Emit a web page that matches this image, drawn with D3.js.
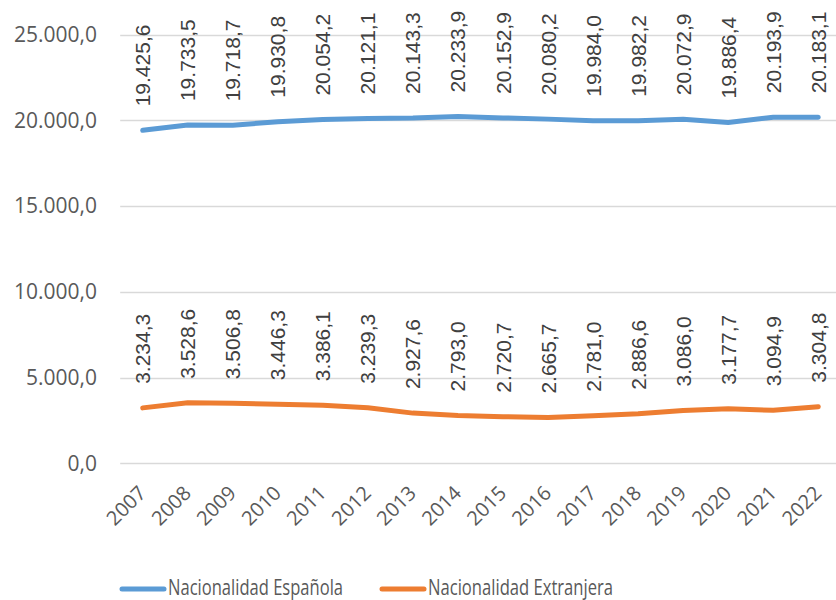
<!DOCTYPE html>
<html>
<head>
<meta charset="utf-8">
<script src="https://cdn.jsdelivr.net/npm/d3@7"></script>
<style>
  html, body { margin: 0; padding: 0; background: #ffffff; }
  svg { display: block; }
</style>
</head>
<body>
<svg id="chart" width="836" height="600"></svg>
<script>
const years = ["2007","2008","2009","2010","2011","2012","2013","2014","2015","2016","2017","2018","2019","2020","2021","2022"];
const espanola = [19425.6,19733.5,19718.7,19930.8,20054.2,20121.1,20143.3,20233.9,20152.9,20080.2,19984.0,19982.2,20072.9,19886.4,20193.9,20183.1];
const extranjera = [3234.3,3528.6,3506.8,3446.3,3386.1,3239.3,2927.6,2793.0,2720.7,2665.7,2781.0,2886.6,3086.0,3177.7,3094.9,3304.8];
const yTicks = [0,5000,10000,15000,20000,25000];
const seriesNames = ["Nacionalidad Española","Nacionalidad Extranjera"];
const colors = ["#5B9BD5","#ED7D31"];

const locale = d3.formatLocale({decimal: ",", thousands: ".", grouping: [3], currency: ["", "€"]});
const fmt = locale.format(",.1f");

const svg = d3.select("#chart");
const plotLeft = 120.2, plotRight = 840.8, plotTop = 34.8, plotBottom = 463.3;

const x = d3.scalePoint().domain(years).range([plotLeft, plotRight]).padding(0.5);
const y = d3.scaleLinear().domain([0, 25000]).range([plotBottom, plotTop]);

const axisFont = "'Open Sans', 'Noto Sans', sans-serif";
const labelFont = "'Liberation Sans', Arial, sans-serif";

// gridlines
svg.append("g").selectAll("line").data(yTicks).join("line")
  .attr("x1", plotLeft).attr("x2", plotRight)
  .attr("y1", d => Math.round(y(d)) + 0.5).attr("y2", d => Math.round(y(d)) + 0.5)
  .attr("stroke", "#d9d9d9").attr("stroke-width", 1.3);

// y axis labels
const yAxis = d3.axisLeft(y).tickValues(yTicks).tickFormat(fmt).tickSize(0).tickPadding(0);
const yg = svg.append("g").attr("transform", "translate(97,0)").call(yAxis);
yg.select(".domain").remove();
yg.selectAll("text").attr("font-family", axisFont).attr("font-size", 21).attr("fill", "#595959");

// x axis labels
const xAxis = d3.axisBottom(x).tickSize(0).tickPadding(0);
const xg = svg.append("g").attr("transform", `translate(0,${plotBottom})`).call(xAxis);
xg.select(".domain").remove();
xg.selectAll("text")
  .attr("font-family", axisFont).attr("font-size", 20).attr("fill", "#595959")
  .attr("text-anchor", "end").attr("dy", null).attr("y", 0)
  .attr("transform", "translate(4,31) rotate(-45)");

const series = [espanola, extranjera];
const line = d3.line().x((d, i) => x(years[i])).y(d => y(d));

series.forEach((vals, si) => {
  svg.append("path").datum(vals)
    .attr("d", line)
    .attr("fill", "none")
    .attr("stroke", colors[si])
    .attr("stroke-width", 5)
    .attr("stroke-linecap", "round")
    .attr("stroke-linejoin", "round");

  svg.append("g").selectAll("text").data(vals).join("text")
    .attr("transform", (d, i) => `translate(${x(years[i])},${y(d) - 24}) rotate(-90)`)
    .attr("text-anchor", "start")
    .attr("dominant-baseline", "central")
    .attr("font-family", labelFont).attr("font-size", 21).attr("fill", "#404040")
    .text(d => fmt(d));
});

// legend
const legendItems = [
  {name: seriesNames[0], color: colors[0], x1: 122, x2: 164, tx: 168, w: 175},
  {name: seriesNames[1], color: colors[1], x1: 382, x2: 424, tx: 428, w: 185}
];
const lg = svg.append("g");
legendItems.forEach(it => {
  lg.append("line").attr("x1", it.x1).attr("x2", it.x2).attr("y1", 589).attr("y2", 589)
    .attr("stroke", it.color).attr("stroke-width", 5).attr("stroke-linecap", "round");
  lg.append("text").attr("x", it.tx).attr("y", 595)
    .attr("font-family", axisFont).attr("font-size", 22).attr("fill", "#595959")
    .attr("textLength", it.w).attr("lengthAdjust", "spacingAndGlyphs")
    .text(it.name);
});
</script>
</body>
</html>
